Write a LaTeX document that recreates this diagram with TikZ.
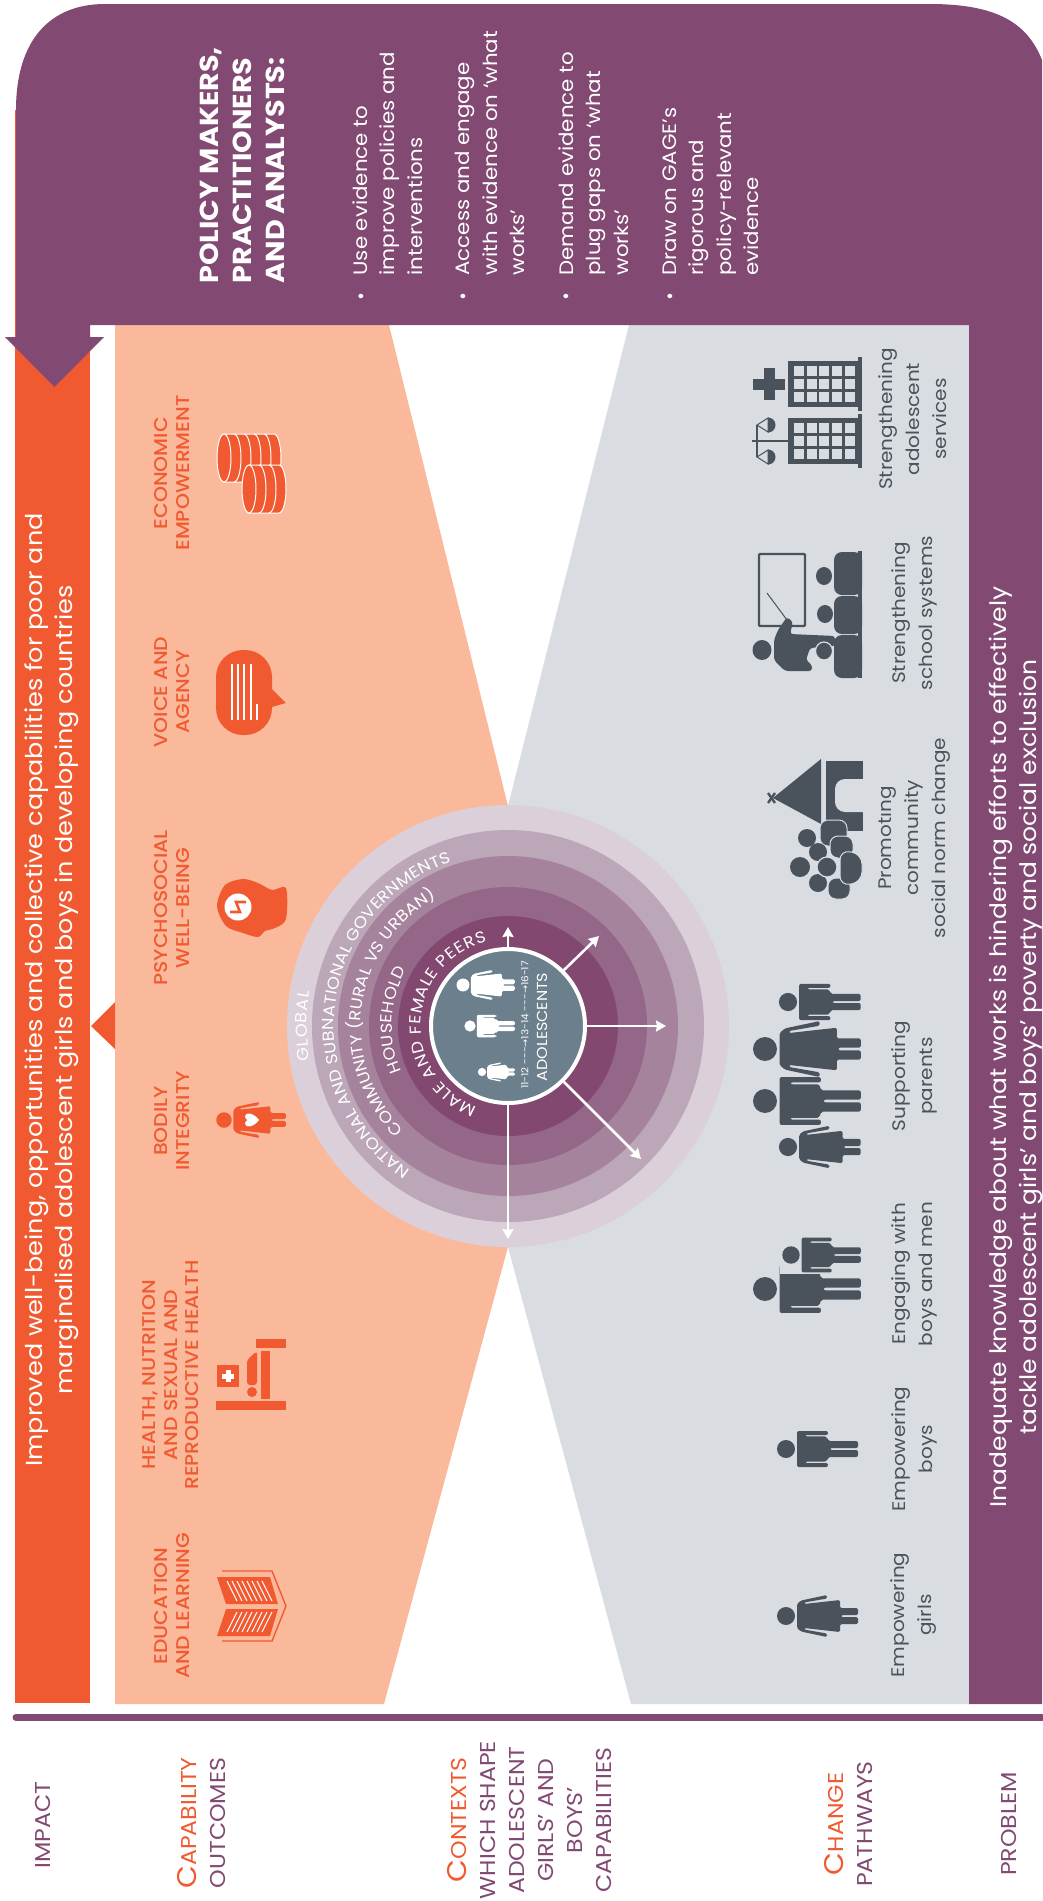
\documentclass[tikz,border=0pt]{standalone}
\usepackage{fontspec}
\setmainfont[FakeStretch=1.1]{Poppins}
\newfontfamily\mediumfont[FakeStretch=1.1]{Poppins Medium}
\newfontfamily\symfont{DejaVu Sans}
\usetikzlibrary{arrows.meta,decorations.text}
\definecolor{gagepurple}{HTML}{824973}
\definecolor{gageorange}{HTML}{F15A31}
\definecolor{gagepeach}{HTML}{FAB99B}
\definecolor{panelgray}{HTML}{D9DCE1}
\definecolor{icondark}{HTML}{4A525C}
\definecolor{teencore}{HTML}{6C7F8D}
\definecolor{ringa}{HTML}{DBCFDA}
\definecolor{ringb}{HTML}{BCA7B9}
\definecolor{ringc}{HTML}{A6839C}
\definecolor{ringd}{HTML}{946688}
\definecolor{ringe}{HTML}{824870}
\newcommand{\leadcap}[2]{{\color{gageorange}\fontsize{27}{30}\selectfont #1\fontsize{21.5}{30}\selectfont #2}}
\newcommand{\ringfont}{\color{white}\fontsize{16}{16}\selectfont}
\tikzset{
ring/.style={circle,inner sep=0pt,minimum size=#1},
side/.style={rotate=90,align=center,text=gagepurple,font=\fontsize{21.5}{29}\selectfont},
goal/.style={rotate=90,align=center,text=gageorange,font=\mediumfont\fontsize{18.5}{21.5}\selectfont},
path/.style={rotate=90,align=center,text=icondark,font=\fontsize{18.2}{27}\selectfont},
band/.style={rotate=90,align=center,text=white,font=\fontsize{22.7}{30}\selectfont},
head/.style={rotate=90,anchor=north west,align=left,text=white,font=\bfseries\fontsize{26}{33}\selectfont},
item/.style={rotate=90,anchor=north west,align=left,text=white,font=\fontsize{19.4}{27.5}\selectfont},
dot/.style={text=white,inner sep=0pt,font=\fontsize{18}{18}\selectfont},
spoke/.style={draw=white,line width=2.6,-{Stealth[length=10pt,width=11pt,inset=1pt]}},
boy/.pic={
\fill (0,0) circle (9);
\fill[rounded corners=2] (11,-18) -- (42,-18) -- (42,-14) -- (19,-14) -- (19,-12.6) -- (41,-12.6) -- (42,-8) -- (72,-8) -- (72,-1) -- (44,-1) -- (44,1) -- (72,1) -- (72,8) -- (42,8) -- (41,12.6) -- (19,12.6) -- (19,14) -- (42,14) -- (42,18) -- (11,18) -- cycle;
},
girl/.pic={
\fill (0,0) circle (9);
\fill[rounded corners=1.5] (11,-12) -- (15,-15.5) -- (41,-21) -- (41,-17.5) -- (18,-13.5) -- (18,-12) -- (54,-16) -- (54,-8) -- (72,-8) -- (72,-1) -- (55,-1) -- (55,1) -- (72,1) -- (72,8) -- (54,8) -- (54,16) -- (18,12) -- (18,13.5) -- (41,17.5) -- (41,21) -- (15,15.5) -- (11,12) -- cycle;
},
block/.pic={
\fill (0,0) rectangle (70,46);
\fill (70,-4) rectangle (74,50);
\foreach \i in {0,1,2,3,4} \foreach \j in {0,1,2} \fill[panelgray] (6+\i*12.7,5+\j*13) rectangle ++(10,10);
}
}
\begin{document}
\begin{tikzpicture}[yscale=-1,x=1pt,y=1pt]
\useasboundingbox (0,0) rectangle (1042,1901);
\fill[gageorange] (15,110) rectangle (90,1703);
\fill[gagepeach] (115,325) -- (389,325) -- (508,806) -- (508,1247) -- (384,1704) -- (115,1704) -- cycle;
\fill[panelgray] (629,325) -- (969,325) -- (969,1704) -- (631,1704) -- (508,1247) -- (508,806) -- cycle;
\fill[gagepurple] (16,337) -- (16,110) .. controls (16,40) and (50,4) .. (105,4) -- (930,4) .. controls (1000,4) and (1028,25) .. (1042,60) -- (1042,1704) -- (969,1704) -- (969,325) -- (90,325) -- (90,337) -- (104,337) -- (54.5,387) -- (5,337) -- cycle;
\fill[gageorange] (115,1002) -- (115,1049) -- (91,1026) -- cycle;
\draw[gagepurple,line width=7,line cap=round] (16,1717.5) -- (1042,1717.5);
\node[ring=442pt,fill=ringa] (R1) at (508,1026) {};
\node[ring=392pt,fill=ringb] (R2) at (508,1026) {};
\node[ring=340pt,fill=ringc] (R3) at (508,1026) {};
\node[ring=278pt,fill=ringd] (R4) at (508,1026) {};
\node[ring=220pt,fill=ringe] (R5) at (508,1026) {};
\node[ring=154pt,fill=teencore,draw=white,line width=4] (Teen) at (508,1026) {};
\coordinate (TipN) at (508,927);
\coordinate (TipNE) at (599,936);
\coordinate (TipE) at (666,1026);
\coordinate (TipSE) at (641,1159);
\coordinate (TipS) at (508,1239);
\draw[spoke] (Teen.north) -- (TipN);
\draw[spoke] (Teen.45) -- (TipNE);
\draw[spoke] (Teen.east) -- (TipE);
\draw[spoke] (Teen.-45) -- (TipSE);
\draw[spoke] (Teen.south) -- (TipS);
\begin{scope}[shift={(508,1026)},yscale=-1]
\path[decorate,decoration={text along path,text align={fit to path},text={|\ringfont|GLOBAL}}] (190:201) arc[start angle=190,end angle=170,radius=201];
\path[decorate,decoration={text along path,text align={fit to path},text={|\ringfont|NATIONAL AND SUBNATIONAL GOVERNMENTS}}] (236:174) arc[start angle=236,end angle=109,radius=174];
\path[decorate,decoration={text along path,text align={fit to path},text={|\ringfont|COMMUNITY (RURAL VS URBAN)}}] (225:147) arc[start angle=225,end angle=119,radius=147];
\path[decorate,decoration={text along path,text align={fit to path},text={|\ringfont|HOUSEHOLD}}] (203:116) arc[start angle=203,end angle=151,radius=116];
\path[decorate,decoration={text along path,text align={fit to path},text={|\ringfont|MALE AND FEMALE PEERS}}] (249:87) arc[start angle=249,end angle=104,radius=87];
\end{scope}
\pic[white,scale=.72] at (463,985) {girl};
\pic[white,scale=.625] at (470,1026) {boy};
\pic[white,scale=.46] at (482,1072) {girl};
\node[rotate=90,text=white,font=\fontsize{9.5}{10}\selectfont] (Ages) at (525,1025) {11-12 -{}-{}-{\symfont→}13-14 -{}-{}-{\symfont→}16-17};
\node[rotate=90,text=white,font=\fontsize{14.5}{15.5}\selectfont] (Adol) at (542,1027) {ADOLESCENTS};
\node[head] (Who) at (196,287) {POLICY MAKERS,\\PRACTITIONERS\\AND ANALYSTS:};
\node[dot] (D1) at (361,298) {•};
\node[dot] (D2) at (463,298) {•};
\node[dot] (D3) at (566,298) {•};
\node[dot] (D4) at (670,298) {•};
\node[item] (L1) at (349,279) {Use evidence to\\improve policies and\\interventions};
\node[item] (L2) at (452,279) {Access and engage\\with evidence on ‘what\\works’};
\node[item] (L3) at (555,279) {Demand evidence to\\plug gaps on ‘what\\works’};
\node[item] (L4) at (659,279) {Draw on GAGE’s\\rigorous and\\policy-relevant\\evidence};
\node[band,font=\fontsize{23.2}{30}\selectfont] (Aim) at (52,990) {Improved well-being, opportunities and collective capabilities for poor and\\marginalised adolescent girls and boys in developing countries};
\node[band] (Gap) at (1016,1047) {Inadequate knowledge about what works is hindering efforts to effectively\\tackle adolescent girls’ and boys’ poverty and social exclusion};
\node[goal] (G1) at (172,473) {ECONOMIC\\EMPOWERMENT};
\node[goal] (G2) at (172,692) {VOICE AND\\AGENCY};
\node[goal] (G3) at (172,908) {PSYCHOSOCIAL\\WELL-BEING};
\node[goal] (G4) at (172,1121) {BODILY\\INTEGRITY};
\node[goal] (G5) at (171,1375) {HEALTH, NUTRITION\\AND SEXUAL AND\\REPRODUCTIVE HEALTH};
\node[goal] (G6) at (172,1606) {EDUCATION\\AND LEARNING};
\node[path] (P1) at (913,419) {Strengthening\\adolescent\\services};
\node[path] (P2) at (914,613) {Strengthening\\school systems};
\node[path] (P3) at (914,838) {Promoting\\community\\social norm change};
\node[path] (P4) at (914,1076) {Supporting\\parents};
\node[path] (P5) at (914,1274) {Engaging with\\boys and men};
\node[path] (P6) at (914,1449) {Empowering\\boys};
\node[path] (P7) at (914,1615) {Empowering\\girls};
\node[side] (S1) at (43,1825) {IMPACT};
\node[side] (S2) at (202,1823) {\leadcap{C}{APABILITY}\\OUTCOMES};
\node[side] (S3) at (530,1820) {\leadcap{C}{ONTEXTS}\\WHICH SHAPE\\ADOLESCENT\\GIRLS’ AND\\BOYS’\\CAPABILITIES};
\node[side] (S4) at (849,1824) {\leadcap{C}{HANGE}\\PATHWAYS};
\node[side] (S5) at (1009,1824) {PROBLEM};
\filldraw[fill=gageorange,draw=white,line width=1] (224,434) -- (274,434) arc[start angle=-90,end angle=90,x radius=7,y radius=24] -- (224,482) -- cycle;
\foreach \i in {1,...,4} \draw[white,line width=1] (224+\i*10,434) arc[start angle=-90,end angle=90,x radius=7,y radius=24];
\filldraw[fill=gageorange,draw=white,line width=1] (224,458) ellipse (7 and 24);
\filldraw[fill=gageorange,draw=white,line width=1] (249,465) -- (279,465) arc[start angle=-90,end angle=90,x radius=7,y radius=24] -- (249,513) -- cycle;
\foreach \i in {1,2} \draw[white,line width=1] (249+\i*10,465) arc[start angle=-90,end angle=90,x radius=7,y radius=24];
\filldraw[fill=gageorange,draw=white,line width=1] (249,489) ellipse (7 and 24);
\fill[gageorange,rounded corners=27] (216,650) rectangle (272,735);
\fill[gageorange] (268,685) -- (286,703) -- (268,708) -- cycle;
\foreach \x in {232,238,244,251} \draw[white,line width=1.6] (\x,664) -- (\x,720);
\draw[white,line width=1.6] (257,704) -- (257,720);
\fill[gageorange] plot[smooth cycle] coordinates {(286,888) (272,890) (258,883) (243,879) (225,885) (217,906) (226,926) (243,933) (258,937) (265,931) (275,928) (286,919)};
\fill[white] (238,907) circle (13.5);
\draw[gageorange,line width=2.6] (230,912) -- (240,912) -- (236,902) -- (246,902);
\pic[gageorange,scale=.86] at (224,1120) {girl};
\fill[white] (259,1120) .. controls (253,1112) and (245,1112) .. (245,1116.5) .. controls (245,1119) and (247,1120) .. (248,1120) .. controls (247,1120) and (245,1121) .. (245,1123.5) .. controls (245,1128) and (253,1128) .. (259,1120) -- cycle;
\fill[gageorange] (256,1339) rectangle (286,1347.5);
\fill[gageorange] (216,1401) rectangle (286,1410);
\fill[gageorange] (261,1351) rectangle (270,1399);
\fill[gageorange,rounded corners=3] (247,1385) -- (247,1360) -- (257,1351) -- (257,1385) -- cycle;
\fill[gageorange] (252,1392) circle (5);
\fill[gageorange] (217,1365) rectangle (239,1387);
\fill[white] (225.5,1370) rectangle (230.5,1382);
\fill[white] (222,1373.5) rectangle (234,1378.5);
\draw[gageorange,line width=1.4] (222,1571) -- (272,1571) -- (286,1606) -- (272,1641) -- (222,1641);
\fill[gageorange] (217,1577) -- (270,1577) -- (278,1604) -- (226,1604) -- cycle;
\fill[gageorange] (226,1609) -- (278,1609) -- (270,1636) -- (217,1636) -- cycle;
\foreach \i in {0,...,7} {
\draw[white,line width=1] (227+\i*5,1581) -- (237+\i*5,1601);
\draw[white,line width=1] (237+\i*5,1612) -- (227+\i*5,1632);
}
\pic[icondark] at (786,1616) {girl};
\pic[icondark] at (786,1449) {boy};
\pic[icondark,scale=1.33] at (765,1289) {boy};
\fill[panelgray] (780,1238) rectangle (862,1274);
\pic[icondark,scale=.97] at (791,1255) {boy};
\pic[icondark,scale=1.01] at (788,1002) {boy};
\pic[icondark,scale=1.33] at (765,1049) {girl};
\pic[icondark,scale=1.33] at (765,1101) {boy};
\pic[icondark,scale=1.01] at (788,1147) {girl};
\fill[icondark] (826,761) rectangle (863,831);
\fill[panelgray,rounded corners=10] (835,779) rectangle (875,812);
\fill[panelgray] (863,775) rectangle (880,816);
\fill[icondark] (773,798) -- (821,759) -- (821,824) -- cycle;
\draw[icondark,line width=2.4] (768,793) -- (775,803);
\draw[icondark,line width=2.4] (768,803) -- (775,793);
\filldraw[fill=icondark,draw=panelgray,line width=1,rounded corners=8] (820,820) rectangle (847,846);
\filldraw[fill=icondark,draw=panelgray,line width=1,rounded corners=8] (830,836) rectangle (853,858);
\filldraw[fill=icondark,draw=panelgray,line width=1,rounded corners=8] (828,878) rectangle (850,899);
\filldraw[fill=icondark,draw=panelgray,line width=1,rounded corners=10] (840,850) -- (862,854) -- (862,882) -- (840,886) -- cycle;
\fill[icondark] (807,838) circle (9);
\fill[icondark] (818,852) circle (9);
\fill[icondark] (800,867) circle (10);
\fill[icondark] (818,883) circle (9);
\filldraw[fill=icondark,draw=panelgray,line width=1.2] (827,867) circle (10);
\draw[icondark,line width=2.2,rounded corners=1] (759,554) rectangle (805,626);
\fill[icondark,rounded corners=8] (862,552) -- (834,552) -- (834,595) -- (862,595) -- cycle;
\fill[icondark,rounded corners=8] (862,596) -- (834,596) -- (834,634) -- (862,634) -- cycle;
\fill[icondark,rounded corners=8] (862,635) -- (834,635) -- (834,678) -- (862,678) -- cycle;
\fill[icondark] (858,551) rectangle (862,678);
\fill[icondark] (824,576) ellipse (8 and 9);
\fill[icondark] (825,614) ellipse (8 and 9);
\fill[icondark,rounded corners=3] (774,640) -- (778,630) -- (787,617) -- (793,622) -- (790,634) -- (835,636) -- (835,646) -- (810,648) -- (806,660) -- (812,665) -- (812,671) -- (785,671) -- (774,660) -- cycle;
\filldraw[fill=icondark,draw=panelgray,line width=1.2] (824,651) ellipse (8.5 and 9);
\fill[icondark] (762,650) ellipse (9.5 and 10);
\draw[icondark,line width=1] (787,620) -- (767,593);
\pic[icondark,yscale=-1] at (788,361) {block};
\pic[icondark,yscale=-1] at (788,418) {block};
\fill[icondark] (763.5,368) rectangle (774.5,400);
\fill[icondark] (753,378.5) rectangle (785,389.5);
\draw[icondark,line width=2.6] (752,441) -- (788,441);
\draw[icondark,line width=2.2] (757,425) -- (757,457);
\draw[icondark,line width=1] (757,425) -- (768,418) -- (768,432) -- cycle;
\draw[icondark,line width=1] (757,457) -- (768,450) -- (768,464) -- cycle;
\fill[icondark] (768,417.5) arc[start angle=-90,end angle=90,radius=7.5] -- cycle;
\fill[icondark] (768,449.5) arc[start angle=-90,end angle=90,radius=7.5] -- cycle;
\end{tikzpicture}
\end{document}
